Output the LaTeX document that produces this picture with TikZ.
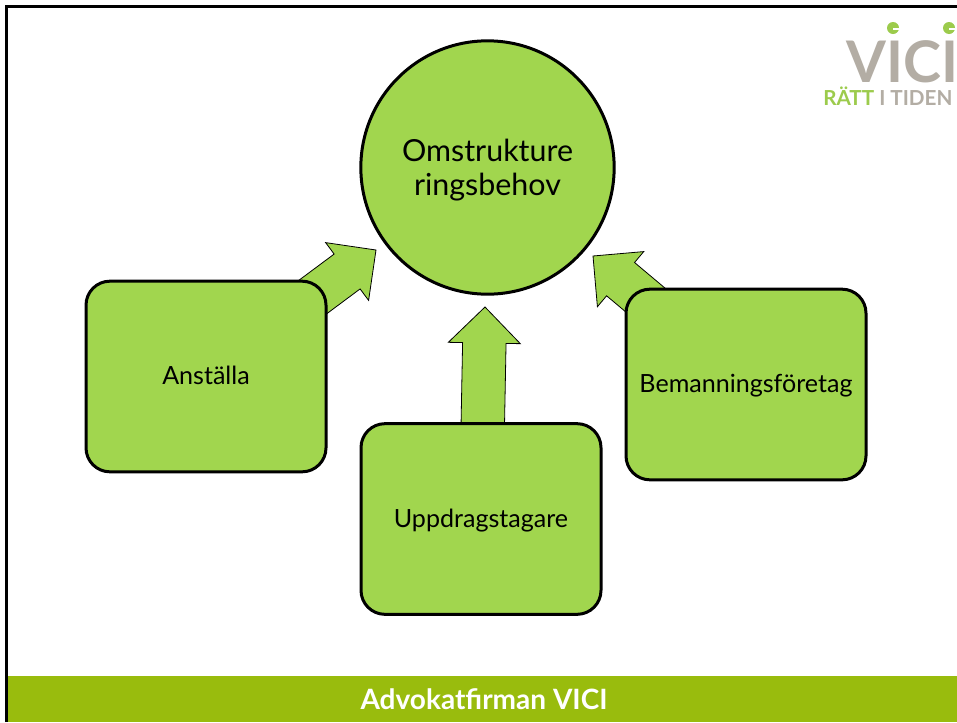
\documentclass[tikz,border=0pt]{standalone}
\usepackage{fontspec}
\setmainfont{Lato}
\usetikzlibrary{positioning}
\usetikzlibrary{calc}
\definecolor{vicigreen}{HTML}{A1D64E}
\definecolor{barcolor}{HTML}{99BC0D}
\definecolor{logogrey}{HTML}{B3ADA4}
\definecolor{logogreen}{HTML}{9CCB4C}
\tikzset{%
  box/.style = {rectangle,draw,line width=2.25pt,fill=vicigreen,rounded corners=18pt,
        minimum width=180pt,minimum height=143pt,text height=14pt,text depth=2pt,
        font=\fontsize{18.8}{22}\selectfont},
  hub/.style = {circle,draw,line width=2.25pt,fill=vicigreen,minimum width=190pt},
  hubtext/.style = {align=center,inner sep=0pt,font=\fontsize{22.8}{26}\selectfont},
  blockarrow/.style = {draw,line width=0.6pt,fill=vicigreen,line join=miter}
}
% block arrow from the centre of a box to a tip
\newcommand{\blockarrow}[2]{%
  \coordinate (h) at ($(#2)!27pt!(#1)$);
  \draw[blockarrow] ($(#1)!16.3pt!-90:(#2)$) -- ($(h)!16.3pt!-90:(#2)$)
    -- ($(h)!27pt!-90:(#2)$) -- (#2) -- ($(h)!27pt!90:(#2)$)
    -- ($(h)!16.3pt!90:(#2)$) -- ($(#1)!16.3pt!90:(#2)$) -- cycle;
}
\begin{document}
\begin{tikzpicture}[x=0.75pt,y=-0.75pt]
    \useasboundingbox (0,0) rectangle (957,722);
    \fill[white] (0,0) rectangle (957,722);
    \draw[line width=2.25pt] (6.5,722) -- (6.5,6.5) -- (957,6.5);
    \fill[barcolor] (8,676) rectangle (957,722);
    \node[font=\bfseries\fontsize{21}{25}\selectfont,text=white] (footer) at (484,699) {Advokatfirman VICI};
    % logo
    \fill[logogreen] (893,28) circle (6) (949,28) circle (6);
    \draw[white,line width=0.8pt] (893,29) -- (899,29) (949,29) -- (955,29);
    \node[text=logogrey,anchor=base west,inner sep=0pt,text depth=0pt,font=\bfseries\fontsize{43}{43}\selectfont] (vici) at (846,82) {VICI};
    \node[anchor=base west,inner sep=0pt,text height=9pt,text depth=0pt,font=\bfseries\fontsize{15.5}{17}\selectfont] (slogan) at (823,105)
        {\textcolor{logogreen}{RÄTT} \textcolor{logogrey}{I TIDEN}};
    % arrows go behind the boxes
    \coordinate (anstalla) at (206,376.5);
    \coordinate (uppdrag) at (481,519);
    \coordinate (bemanning) at (746,384.5);
    \coordinate (tipa) at (376,250);
    \coordinate (tipu) at (485,307);
    \coordinate (tipb) at (593,256);
    \blockarrow{anstalla}{tipa}
    \blockarrow{uppdrag}{tipu}
    \blockarrow{bemanning}{tipb}
    \node[hub] (behov) at (487.5,167.5) {};
    \node[hubtext] (behovtext) at ([yshift=-1.9pt]behov.center) {Omstrukture\\ringsbehov};
    \node[box] (a) at (anstalla) {Anställa};
    \node[box] (u) at (uppdrag) {Uppdragstagare};
    \node[box] (b) at (bemanning) {Bemanningsföretag};
\end{tikzpicture}
\end{document}
